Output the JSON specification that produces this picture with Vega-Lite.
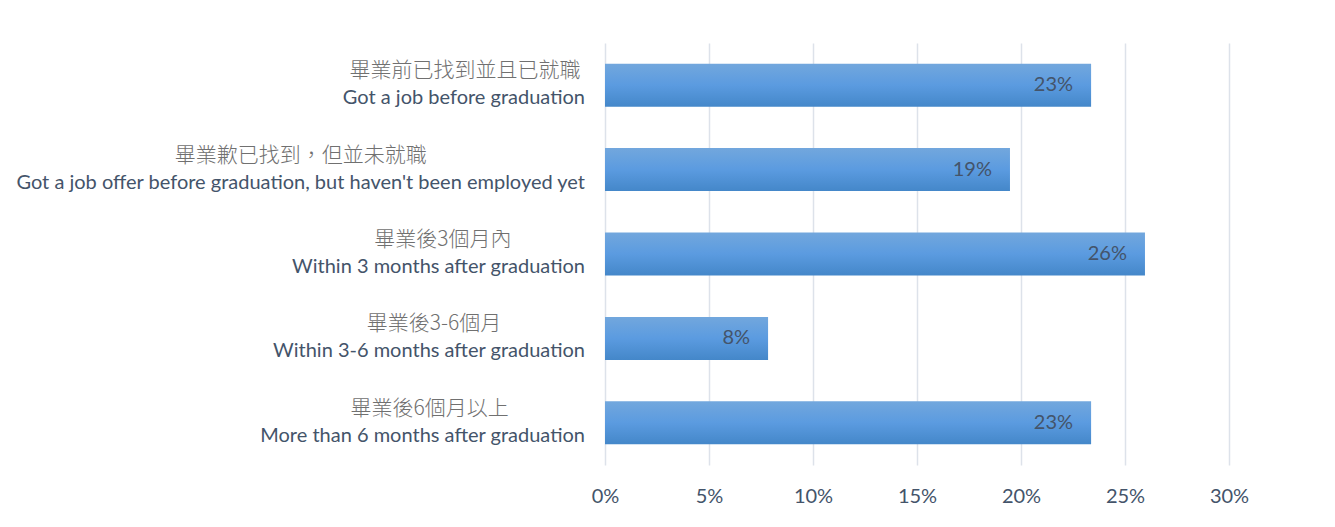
{
  "$schema": "https://vega.github.io/schema/vega-lite/v6.json",
  "autosize": {"type": "none"},
  "padding": {"left": 605, "top": 43, "right": 106, "bottom": 62},
  "width": 624,
  "height": 422,
  "background": "white",
  "config": {"view": {"stroke": null}, "font": "Lato"},
  "data": {
    "values": [
      {"zh": "畢業前已找到並且已就職", "en": "Got a job before graduation", "value": 0.2337},
      {"zh": "畢業歉已找到，但並未就職", "en": "Got a job offer before graduation, but haven't been employed yet", "value": 0.1947},
      {"zh": "畢業後3個月內", "en": "Within 3 months after graduation", "value": 0.2596},
      {"zh": "畢業後3-6個月", "en": "Within 3-6 months after graduation", "value": 0.0784},
      {"zh": "畢業後6個月以上", "en": "More than 6 months after graduation", "value": 0.2337}
    ]
  },
  "encoding": {
    "y": {
      "field": "en",
      "type": "nominal",
      "sort": null,
      "scale": {"paddingInner": 0.49, "paddingOuter": 0.245},
      "axis": null
    }
  },
  "layer": [
    {
      "mark": {
        "type": "bar",
        "color": {
          "gradient": "linear",
          "x1": 0, "y1": 0, "x2": 0, "y2": 1,
          "stops": [
            {"offset": 0, "color": "#72a7dd"},
            {"offset": 0.5, "color": "#5b9be0"},
            {"offset": 1, "color": "#4487c9"}
          ]
        }
      },
      "encoding": {
        "x": {
          "field": "value",
          "type": "quantitative",
          "scale": {"domain": [0, 0.3], "nice": false},
          "axis": {
            "values": [0, 0.05, 0.1, 0.15, 0.2, 0.25, 0.3],
            "format": ".0%",
            "title": null,
            "domain": false,
            "ticks": false,
            "grid": true,
            "gridColor": "#dde2ea",
            "gridWidth": 1.5,
            "labelFlush": false,
            "labelFont": "Lato",
            "labelFontSize": 20,
            "labelColor": "#44546a",
            "labelPadding": 21
          }
        }
      }
    },
    {
      "mark": {"type": "text", "align": "right", "baseline": "middle", "dx": -18, "font": "Lato", "fontSize": 20, "color": "#44546a"},
      "encoding": {
        "x": {"field": "value", "type": "quantitative"},
        "text": {"field": "value", "type": "quantitative", "format": ".0%"}
      }
    },
    {
      "mark": {"type": "text", "align": "center", "baseline": "middle", "dx": {"expr": "-20 - length(datum.en) * 4.44"}, "dy": -14, "font": "Noto Sans CJK TC", "fontWeight": 300, "fontSize": 21, "color": "#707070"},
      "encoding": {
        "x": {"datum": 0, "type": "quantitative"},
        "text": {"field": "zh"}
      }
    },
    {
      "mark": {"type": "text", "align": "right", "baseline": "middle", "dx": -20, "dy": 13, "font": "Lato", "fontSize": 20, "color": "#44546a"},
      "encoding": {
        "x": {"datum": 0, "type": "quantitative"},
        "text": {"field": "en"}
      }
    }
  ]
}
